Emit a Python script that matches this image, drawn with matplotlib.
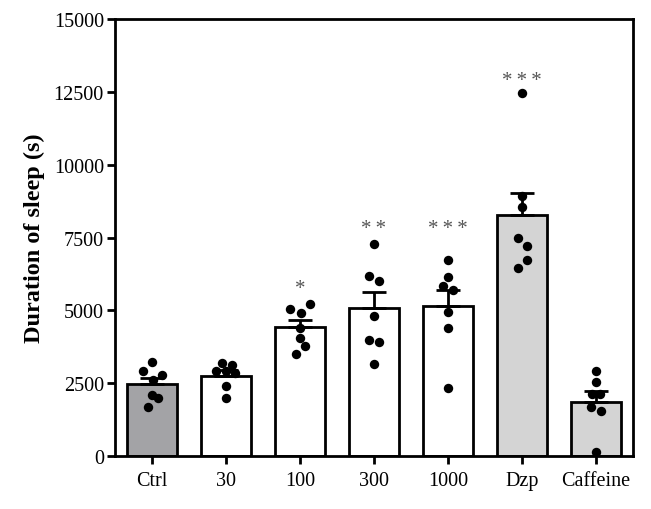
import matplotlib
matplotlib.use("Agg")
import matplotlib.pyplot as plt
import numpy as np

# Groups and summary values
groups = ["Ctrl", "30", "100", "300", "1000", "Dzp", "Caffeine"]
means = [2470, 2760, 4420, 5070, 5160, 8270, 1850]
sems = [200, 180, 260, 550, 540, 760, 370]
bar_colors = ["#a3a3a6", "white", "white", "white", "white", "#d4d4d4", "#d4d4d4"]

# Individual animals per group
points = [
    [3216, 2907, 2792, 2609, 2094, 1980, 1671],
    [3182, 3135, 2930, 2930, 2849, 2414, 1991],
    [5046, 5228, 4909, 4383, 4040, 3766, 3501],
    [7278, 6190, 6018, 4816, 3992, 3903, 3158],
    [6739, 6155, 5846, 5709, 4933, 4384, 2324],
    [12451, 8936, 8538, 7484, 7220, 6729, 6444],
    [2907, 2551, 2128, 2128, 1671, 1555, 127],
]
# horizontal jitter (fraction of category spacing), as scattered in the figure
jitter = [
    [0.0, -0.12, 0.13, 0.01, 0.0, 0.08, -0.06],
    [-0.06, 0.08, -0.13, 0.0, 0.12, 0.0, 0.0],
    [-0.13, 0.13, 0.01, 0.0, 0.0, 0.07, -0.05],
    [0.0, -0.07, 0.07, 0.0, -0.07, 0.07, 0.0],
    [0.0, 0.0, -0.07, 0.07, 0.0, 0.0, 0.0],
    [0.0, 0.0, 0.0, -0.06, 0.07, 0.07, -0.06],
    [0.0, 0.0, -0.05, 0.05, -0.07, 0.07, 0.0],
]

# significance markers
stars = ["", "", "*", "**", "***", "***", ""]
star_y = [0, 0, 5750, 7800, 7800, 12900, 0]

plt.rcParams.update({
    "font.family": ["Liberation Serif", "DejaVu Serif"],
    "font.size": 14,
})

fig = plt.figure(figsize=(6.51, 5.10), dpi=100)
ax = fig.add_axes([0.1767, 0.1039, 0.7957, 0.8569])

x = np.arange(len(groups))
ax.bar(x, means, width=0.68, color=bar_colors, edgecolor="black",
       linewidth=2.0, zorder=2)
ax.errorbar(x, means, yerr=[np.zeros(len(sems)), sems], fmt="none",
            ecolor="black", elinewidth=2.0, capsize=8.5, capthick=2.0, zorder=3)

for i, vals in enumerate(points):
    xs = i + np.array(jitter[i])
    ax.scatter(xs, vals, s=46, color="black", zorder=4, linewidths=0)
    if stars[i]:
        ax.text(i, star_y[i], "\u2009".join(stars[i]), ha="center", va="center",
                fontsize=15, color="#555555", zorder=5)

ax.set_xlim(-0.5, 6.5)
ax.set_ylim(0, 15000)
ax.set_yticks([0, 2500, 5000, 7500, 10000, 12500, 15000])
ax.set_xticks(x)
ax.set_xticklabels(groups)
ax.tick_params(axis="both", direction="out", width=2.0, length=6, labelsize=14.5)
ax.tick_params(axis="y", pad=2)
ax.tick_params(axis="x", pad=5)
for s in ax.spines.values():
    s.set_linewidth(2.0)

ax.set_ylabel("Duration of sleep (s)", fontsize=17.5, fontweight="bold", labelpad=6)

fig.savefig("out.png", dpi=100, facecolor="white")
